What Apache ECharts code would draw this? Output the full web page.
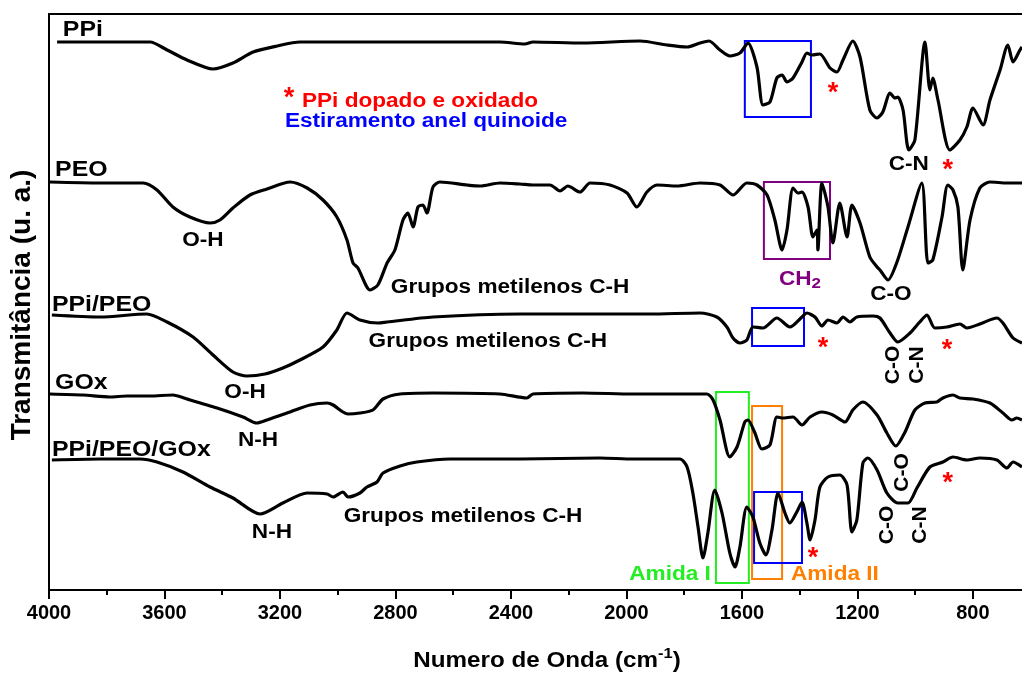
<!DOCTYPE html>
<html>
<head>
<meta charset="utf-8">
<script src="https://cdn.jsdelivr.net/npm/echarts@6/dist/echarts.min.js"></script>
<style>
  html, body { margin: 0; padding: 0; background: #ffffff; }
  #chart { width: 1022px; height: 675px; }
</style>
</head>
<body>
<div id="chart"></div>
<script>
// FTIR spectra, [wavenumber (cm-1), transmittance (a.u., stacked with offsets)]
const ppi = [[3972,548],[3650,548],[3591,540],[3522,530],[3432,521],[3363,527],[3293,538],[3210,544],[3131,548],[2784,548],[2438,548],[2352,546],[2324,548],[2151,547],[1953,549],[1860,545],[1790,543],[1745,547],[1714,549],[1676,540],[1642,534],[1607,537],[1579,547],[1548,523],[1527,485],[1503,488],[1479,512],[1461,515],[1444,508],[1423,512],[1392,528],[1375,537],[1358,535],[1330,536],[1295,522],[1271,518],[1250,530],[1216,549],[1191,533],[1157,480],[1132,472],[1112,478],[1087,497],[1070,492],[1060,493],[1042,480],[1022,440],[1001,450],[966,548],[949,500],[939,512],[921,490],[880,440],[845,450],[821,463],[800,482],[765,465],[741,490],[706,520],[679,545],[661,528],[637,540],[630,543]];

const peo = [[3997,408],[3823,407],[3674,407],[3626,400],[3571,383],[3512,373],[3442,367],[3408,370],[3363,382],[3304,395],[3245,401],[3165,408],[3106,402],[3051,390],[3003,373],[2968,350],[2947,327],[2930,322],[2888,300],[2861,305],[2829,327],[2802,340],[2774,370],[2757,377],[2739,363],[2722,383],[2705,385],[2691,377],[2670,403],[2646,408],[2552,405],[2507,404],[2438,407],[2369,406],[2324,405],[2265,405],[2230,399],[2203,404],[2161,398],[2126,407],[2057,405],[1998,397],[1964,383],[1929,398],[1894,405],[1825,404],[1745,407],[1676,405],[1631,395],[1583,407],[1548,405],[1513,395],[1486,370],[1461,340],[1444,360],[1423,402],[1406,397],[1392,398],[1371,383],[1354,353],[1340,360],[1337,340],[1323,407],[1302,383],[1285,347],[1261,387],[1236,353],[1219,385],[1191,367],[1157,333],[1132,323],[1122,320],[1094,310],[1063,328],[1025,363],[977,407],[956,327],[939,330],[907,373],[887,405],[869,400],[852,383],[835,320],[810,370],[776,402],[741,408],[682,407],[630,407]];

const ppiPeo = [[3990,275],[3823,273],[3661,276],[3591,268],[3501,253],[3432,235],[3363,218],[3314,214],[3252,216],[3190,222],[3131,230],[3051,243],[3003,260],[2968,277],[2923,270],[2861,267],[2829,268],[2670,273],[2369,276],[2092,276],[1919,276],[1745,277],[1687,273],[1652,263],[1631,252],[1607,247],[1583,250],[1562,263],[1527,262],[1479,272],[1434,263],[1392,273],[1375,277],[1347,273],[1323,264],[1302,270],[1271,267],[1250,273],[1226,268],[1202,273],[1146,274],[1122,272],[1087,257],[1060,248],[1018,257],[984,268],[959,275],[932,262],[890,263],[845,266],[821,262],[776,266],[717,272],[696,267],[661,252],[630,247]];

const gox = [[3997,196],[3882,195],[3789,193],[3730,194],[3650,194],[3571,195],[3522,191],[3418,182],[3328,173],[3280,167],[3245,170],[3165,178],[3096,185],[3037,187],[3016,185],[2982,178],[2964,176],[2923,177],[2878,180],[2843,191],[2784,196],[2670,197],[2438,196],[2345,192],[2324,196],[2151,197],[1977,196],[1721,196],[1700,190],[1676,170],[1642,133],[1617,143],[1590,168],[1579,170],[1555,157],[1531,141],[1503,145],[1479,173],[1461,172],[1423,173],[1392,165],[1364,173],[1323,178],[1285,175],[1243,168],[1216,180],[1181,188],[1132,175],[1098,157],[1067,144],[1035,158],[1001,180],[966,187],[925,188],[904,192],[869,195],[845,192],[800,191],[741,187],[696,177],[665,170],[648,172],[630,170]];

const ppiPeoGox = [[3990,130],[3823,131],[3685,131],[3626,128],[3536,118],[3442,103],[3363,92],[3269,76],[3190,87],[3106,97],[3037,96],[3016,93],[2982,98],[2964,93],[2923,97],[2899,103],[2864,108],[2843,117],[2784,124],[2726,128],[2611,131],[2369,131],[2092,132],[1977,131],[1815,131],[1790,123],[1770,97],[1752,63],[1735,32],[1718,57],[1694,100],[1669,77],[1642,37],[1624,23],[1607,43],[1583,83],[1562,73],[1538,47],[1517,35],[1496,60],[1475,97],[1451,77],[1434,67],[1410,78],[1392,88],[1375,67],[1364,50],[1347,70],[1330,103],[1302,113],[1261,115],[1236,105],[1219,58],[1202,70],[1181,127],[1164,132],[1132,120],[1098,97],[1060,87],[1025,87],[994,102],[949,123],[904,128],[869,133],[821,130],[776,132],[717,130],[682,122],[661,128],[630,123]];

// axis ticks (cm-1)
const majorTicks = [4000, 3600, 3200, 2800, 2400, 2000, 1600, 1200, 800];
const minorTicks = [3800, 3400, 3000, 2600, 2200, 1800, 1400, 1000];

// band boxes: [wn1, t1, wn2, t2]
const quinoidBoxes = [[1590,549,1361,473],[1565,282,1385,244],[1558,98,1392,27]];
const ch2Box = [1524,408,1295,331];
const amideIBox = [1690,198,1576,7];
const amideIIBox = [1565,184,1461,11];

// sample names: [text, wn (left edge), t]
const sampleNames = [['PPi',3952,560],['PEO',3979,420],['PPi/PEO',3990,285],['GOx',3979,207],['PPi/PEO/GOx',3990,140]];

// band assignments: [text, wn, t]
const bandNotes = [['O-H',3467,349.5],['Grupos metilenos C-H',2403,302.5],['C-O',1084,295.5],['C-N',1022,425.5],['Grupos metilenos C-H',2480,248.5],['O-H',3321,197.5],['N-H',3276,149.5],['N-H',3228,57.5],['Grupos metilenos C-H',2566,73.5]];
const verticalNotes = [['C-O',1077,225],['C-N',994,225],['C-O',1046,117.5],['C-O',1098,65],['C-N',984,65]];
const dopedMarks = [[3169,497],[1285,502],[887,425],[1319,247],[890,245],[1354,37],[887,112]];

const FONT = '"Liberation Sans", Arial, sans-serif';
const BLUE = '#0000ff', RED = '#ff0000', PURPLE = '#800080', GREEN = '#22ee22', ORANGE = '#ff8000';
const WIDE = 1.13;   // horizontal widening of the lettering

function boxArea(b, color) {
  return [{ coord: [b[0], b[1]], itemStyle: { color: 'rgba(0,0,0,0)', borderColor: color, borderWidth: 2 } },
          { coord: [b[2], b[3]] }];
}
function spectrum(name, data, areas) {
  const s = {
    name, type: 'line', data, xAxisIndex: 0, yAxisIndex: 0,
    showSymbol: false, smooth: 0.25, silent: true,
    lineStyle: { color: '#000', width: 3.2, join: 'round' },
    itemStyle: { color: '#000' }
  };
  if (areas) s.markArea = { silent: true, label: { show: false }, data: areas };
  return s;
}

const chart = echarts.init(document.getElementById('chart'), null, { renderer: 'canvas' });
const axisBase = { type: 'value', min: 630, max: 4000, inverse: true, splitLine: { show: false } };
chart.setOption({
  animation: false,
  backgroundColor: '#ffffff',
  grid: { left: 49, right: 0, top: 14, bottom: 85 },
  xAxis: [
    Object.assign({}, axisBase, {
      position: 'bottom',
      axisLine: { show: true, lineStyle: { color: '#000', width: 2 } },
      axisTick: { show: true, customValues: majorTicks, length: 9, lineStyle: { color: '#000', width: 2 } },
      axisLabel: { show: true, customValues: majorTicks, margin: 13, color: '#000', fontSize: 20, fontWeight: 'bold', fontFamily: FONT,
                   formatter: v => String(v) }
    }),
    Object.assign({}, axisBase, {
      position: 'bottom',
      axisLine: { show: false },
      axisTick: { show: true, customValues: minorTicks, length: 5, lineStyle: { color: '#000', width: 2 } },
      axisLabel: { show: false }
    }),
    Object.assign({}, axisBase, {
      position: 'top',
      axisLine: { show: true, lineStyle: { color: '#000', width: 2 } },
      axisTick: { show: false },
      axisLabel: { show: false }
    })
  ],
  yAxis: {
    type: 'value', min: 0, max: 576,
    axisLine: { show: true, lineStyle: { color: '#000', width: 2 } },
    axisTick: { show: false }, axisLabel: { show: false }, splitLine: { show: false }
  },
  series: [
    spectrum('PPi', ppi, [boxArea(quinoidBoxes[0], BLUE)]),
    spectrum('PEO', peo, [boxArea(ch2Box, PURPLE)]),
    spectrum('PPi/PEO', ppiPeo, [boxArea(quinoidBoxes[1], BLUE)]),
    spectrum('GOx', gox),
    spectrum('PPi/PEO/GOx', ppiPeoGox, [boxArea(amideIBox, GREEN), boxArea(amideIIBox, ORANGE), boxArea(quinoidBoxes[2], BLUE)])
  ]
});

// text placed through the axes' scales
const px = (wn, t) => chart.convertToPixel({ xAxisIndex: 0, yAxisIndex: 0 }, [wn, t]);
function label(text, wn, t, opts) {
  const p = px(wn, t);
  const o = opts || {};
  const rot = o.rotation || 0;
  return {
    type: 'text', x: p[0], y: p[1], rotation: rot, silent: true, z: 100,
    scaleX: rot ? 1 : (o.scaleX || WIDE),
    style: Object.assign({
      text, fill: o.color || '#000', fontFamily: FONT, fontWeight: 'bold', fontSize: o.size || 20,
      align: o.align || 'center', verticalAlign: 'middle'
    }, o.style || {})
  };
}
const graphics = [];
sampleNames.forEach(s => graphics.push(label(s[0], s[1], s[2], { size: 22, align: 'left' })));
bandNotes.forEach(n => graphics.push(label(n[0], n[1], n[2])));
verticalNotes.forEach(n => graphics.push(label(n[0], n[1], n[2], { rotation: Math.PI / 2, size: 21 })));
dopedMarks.forEach(m => graphics.push(label('*', m[0], m[1] - 6, { color: RED, size: 27, scaleX: 1 })));
graphics.push(label('PPi dopado e oxidado', 3124, 488.5, { color: RED, align: 'left' }));
graphics.push(label('Estiramento anel quinoide', 3183, 468.5, { color: BLUE, align: 'left' }));
graphics.push(label('Amida I', 1849, 15.5, { color: GREEN }));
graphics.push(label('Amida II', 1278, 15.5, { color: ORANGE }));
graphics.push(label('CH{s|2}', 1399, 311, {
  color: PURPLE,
  style: { rich: { s: { fontSize: 15, fontWeight: 'bold', fontFamily: FONT, fill: PURPLE, verticalAlign: 'bottom', padding: [10, 0, 0, 0] } } }
}));

// axis titles
graphics.push({
  type: 'text', x: 22, y: 305, rotation: Math.PI / 2, silent: true,
  style: { text: 'Transmitância (u. a.)', fill: '#000', fontFamily: FONT, fontWeight: 'bold', fontSize: 28, align: 'center', verticalAlign: 'middle' }
});
graphics.push({
  type: 'text', x: 547, y: 659, silent: true, scaleX: 1.1,
  style: {
    text: '{n|Numero de Onda (cm}{s|-1}{n|)}', fill: '#000', align: 'center', verticalAlign: 'middle',
    rich: {
      n: { fontSize: 22, fontWeight: 'bold', fontFamily: FONT, fill: '#000', verticalAlign: 'bottom' },
      s: { fontSize: 15, fontWeight: 'bold', fontFamily: FONT, fill: '#000', verticalAlign: 'top', padding: [0, 0, 10, 0] }
    }
  }
});
chart.setOption({ graphic: graphics });
</script>
</body>
</html>
